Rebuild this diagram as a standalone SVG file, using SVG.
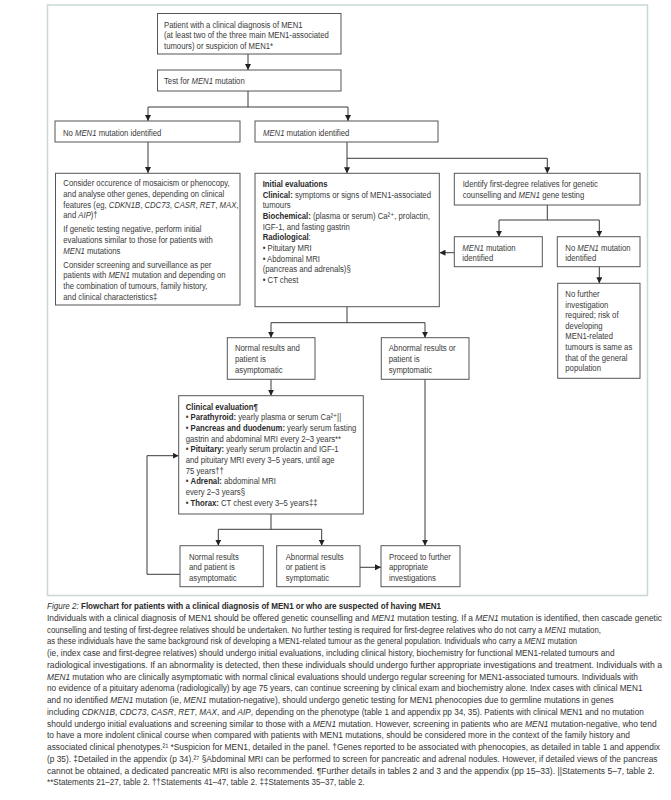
<svg xmlns="http://www.w3.org/2000/svg" width="671" height="800" viewBox="0 0 671 800">
<defs>
<style>
.box{fill:#fff;stroke:#555;stroke-width:1}
.t{font-family:"Liberation Sans",Arial,"DejaVu Sans",sans-serif;font-size:9px;fill:#3a3a3a}
.b{font-weight:bold;fill:#2a2a2a}
.i{font-style:italic}
.conn{fill:none;stroke:#3a3a3a;stroke-width:1}
.cap{font-family:"Liberation Sans",Arial,"DejaVu Sans",sans-serif;font-size:9px;fill:#333}
</style>
<marker id="ah" markerUnits="userSpaceOnUse" markerWidth="6" markerHeight="6" refX="6" refY="3" orient="auto">
<path d="M0,0 L6,3 L0,6 z" fill="#222"/>
</marker>
</defs>
<rect width="671" height="800" fill="#fff"/>
<rect x="47.5" y="5" width="600" height="590.5" fill="none" stroke="#c9d7d7" stroke-width="1.5"/>

<g id="connectors">
<path class="conn" d="M248,54 V70" marker-end="url(#ah)"/>
<path class="conn" d="M248,91 V107 M148,107 H348"/>
<path class="conn" d="M148,107 V121" marker-end="url(#ah)"/>
<path class="conn" d="M348,107 V121" marker-end="url(#ah)"/>
<path class="conn" d="M148,142 V173" marker-end="url(#ah)"/>
<path class="conn" d="M347,142 V173.3" marker-end="url(#ah)"/>
<path class="conn" d="M347,158.3 H547.3 V173.3" marker-end="url(#ah)"/>
<path class="conn" d="M547.3,205 V220 M499,220 H599.3"/>
<path class="conn" d="M499,220 V236.7" marker-end="url(#ah)"/>
<path class="conn" d="M599.3,220 V236.7" marker-end="url(#ah)"/>
<path class="conn" d="M454.3,252.7 H439.5" marker-end="url(#ah)"/>
<path class="conn" d="M599.3,266.7 V283.3" marker-end="url(#ah)"/>
<path class="conn" d="M347,306.7 V322.7 M271,322.7 H425"/>
<path class="conn" d="M271,322.7 V337.7" marker-end="url(#ah)"/>
<path class="conn" d="M425,322.7 V337.7" marker-end="url(#ah)"/>
<path class="conn" d="M271,379.3 V395.7" marker-end="url(#ah)"/>
<path class="conn" d="M425,379.3 V545.7" marker-end="url(#ah)"/>
<path class="conn" d="M271,514 V529.3 M218.3,529.3 H321.7"/>
<path class="conn" d="M218.3,529.3 V545.7" marker-end="url(#ah)"/>
<path class="conn" d="M321.7,529.3 V545.7" marker-end="url(#ah)"/>
<path class="conn" d="M180,574.3 H147 V455.7 H178.7" marker-end="url(#ah)"/>
<path class="conn" d="M360,567.3 H381" marker-end="url(#ah)"/>
</g>

<g id="patient">
<rect class="box" x="157.5" y="13.5" width="183.5" height="40.5"/>
<text class="t" transform="matrix(0.86 0 0 1 164 28)"><tspan x="0" y="0">Patient with a clinical diagnosis of MEN1</tspan><tspan x="0" y="10.5">(at least two of the three main MEN1-associated</tspan><tspan x="0" y="21">tumours) or suspicion of MEN1*</tspan></text>
</g>

<g id="test">
<rect class="box" x="157.5" y="70" width="183.5" height="21"/>
<text class="t" transform="matrix(0.86 0 0 1 164 84)">Test for <tspan class="i">MEN1</tspan> mutation</text>
</g>

<g id="no-mutation">
<rect class="box" x="55" y="121" width="185" height="21"/>
<text class="t" transform="matrix(0.86 0 0 1 63 135.5)">No <tspan class="i">MEN1</tspan> mutation identified</text>
</g>

<g id="mutation">
<rect class="box" x="255" y="121" width="183" height="21"/>
<text class="t" transform="matrix(0.86 0 0 1 263 135.5)"><tspan class="i">MEN1</tspan> mutation identified</text>
</g>

<g id="consider">
<rect class="box" x="55.5" y="173.3" width="184.5" height="131.7"/>
<text class="t" transform="matrix(0.86 0 0 1 63.3 186.3)"><tspan x="0" y="0">Consider occurence of mosaicism or phenocopy,</tspan><tspan x="0" y="10.7">and analyse other genes, depending on clinical</tspan><tspan x="0" y="21.4">features (eg, <tspan class="i">CDKN1B</tspan>, <tspan class="i">CDC73</tspan>, <tspan class="i">CASR</tspan>, <tspan class="i">RET</tspan>, <tspan class="i">MAX</tspan>,</tspan><tspan x="0" y="32">and <tspan class="i">AIP</tspan>)†</tspan><tspan x="0" y="46">If genetic testing negative, perform initial</tspan><tspan x="0" y="56.7">evaluations similar to those for patients with</tspan><tspan x="0" y="67.4"><tspan class="i">MEN1</tspan> mutations</tspan><tspan x="0" y="81.4">Consider screening and surveillance as per</tspan><tspan x="0" y="92">patients with <tspan class="i">MEN1</tspan> mutation and depending on</tspan><tspan x="0" y="102.7">the combination of tumours, family history,</tspan><tspan x="0" y="113.4">and clinical characteristics‡</tspan></text>
</g>

<g id="initial">
<rect class="box" x="255" y="173.3" width="184.3" height="133.4"/>
<text class="t" transform="matrix(0.86 0 0 1 262.7 187)"><tspan x="0" y="0" class="b">Initial evaluations</tspan><tspan x="0" y="10.67"><tspan class="b">Clinical:</tspan> symptoms or signs of  MEN1-associated</tspan><tspan x="0" y="21.33">tumours</tspan><tspan x="0" y="32"><tspan class="b">Biochemical:</tspan> (plasma or serum) Ca²⁺, prolactin,</tspan><tspan x="0" y="42.67">IGF-1, and fasting gastrin</tspan><tspan x="0" y="53.33"><tspan class="b">Radiological</tspan>:</tspan><tspan x="0" y="64">• Pituitary MRI</tspan><tspan x="0" y="74.67">• Abdominal MRI</tspan><tspan x="0" y="85.33">(pancreas and adrenals)§</tspan><tspan x="0" y="96">• CT chest</tspan></text>
</g>

<g id="identify">
<rect class="box" x="454.3" y="173.3" width="185.7" height="31.7"/>
<text class="t" transform="matrix(0.86 0 0 1 462.7 187)"><tspan x="0" y="0">Identify first-degree relatives for genetic</tspan><tspan x="0" y="10.67">counselling and <tspan class="i">MEN1</tspan> gene testing</tspan></text>
</g>

<g id="rel-mutation">
<rect class="box" x="454.3" y="236.7" width="88" height="30"/>
<text class="t" transform="matrix(0.86 0 0 1 462.3 250.5)"><tspan x="0" y="0"><tspan class="i">MEN1</tspan> mutation</tspan><tspan x="0" y="10.3">identified</tspan></text>
</g>

<g id="rel-no-mutation">
<rect class="box" x="557.3" y="236.7" width="82.7" height="30"/>
<text class="t" transform="matrix(0.86 0 0 1 565.3 250.5)"><tspan x="0" y="0">No <tspan class="i">MEN1</tspan> mutation</tspan><tspan x="0" y="10.3">identified</tspan></text>
</g>

<g id="no-further">
<rect class="box" x="557.7" y="283.3" width="82.3" height="95"/>
<text class="t" transform="matrix(0.86 0 0 1 565.3 297)"><tspan x="0" y="0">No further</tspan><tspan x="0" y="10.6">investigation</tspan><tspan x="0" y="21.2">required; risk of</tspan><tspan x="0" y="31.8">developing</tspan><tspan x="0" y="42.4">MEN1-related</tspan><tspan x="0" y="53">tumours is same as</tspan><tspan x="0" y="63.6">that of the general</tspan><tspan x="0" y="74.2">population</tspan></text>
</g>

<g id="normal1">
<rect class="box" x="227.3" y="337.7" width="87.7" height="41.6"/>
<text class="t" transform="matrix(0.86 0 0 1 235 351.3)"><tspan x="0" y="0">Normal results and</tspan><tspan x="0" y="10.8">patient is</tspan><tspan x="0" y="21.6">asymptomatic</tspan></text>
</g>

<g id="abnormal1">
<rect class="box" x="381.3" y="337.7" width="87.7" height="41.6"/>
<text class="t" transform="matrix(0.86 0 0 1 388.7 351.3)"><tspan x="0" y="0">Abnormal results or</tspan><tspan x="0" y="10.8">patient is</tspan><tspan x="0" y="21.6">symptomatic</tspan></text>
</g>

<g id="clinical-evaluation">
<rect class="box" x="178.7" y="395.7" width="184.6" height="118.3"/>
<text class="t" transform="matrix(0.86 0 0 1 185.7 409.7)"><tspan x="0" y="0" class="b">Clinical evaluation¶</tspan><tspan x="0" y="10.67">• <tspan class="b">Parathyroid:</tspan> yearly plasma or serum Ca²⁺||</tspan><tspan x="0" y="21.33">• <tspan class="b">Pancreas and duodenum:</tspan> yearly serum fasting</tspan><tspan x="0" y="32">gastrin and abdominal MRI every 2–3 years**</tspan><tspan x="0" y="42.67">• <tspan class="b">Pituitary:</tspan> yearly serum prolactin and IGF-1</tspan><tspan x="0" y="53.33">and pituitary MRI every 3–5 years, until age</tspan><tspan x="0" y="64">75 years††</tspan><tspan x="0" y="74.67">• <tspan class="b">Adrenal:</tspan> abdominal MRI</tspan><tspan x="0" y="85.33">every 2–3 years§</tspan><tspan x="0" y="96">• <tspan class="b">Thorax:</tspan> CT chest every 3–5 years‡‡</tspan></text>
</g>

<g id="normal2">
<rect class="box" x="180" y="545.7" width="83.3" height="41"/>
<text class="t" transform="matrix(0.86 0 0 1 189 559.5)"><tspan x="0" y="0">Normal results</tspan><tspan x="0" y="11">and patient is</tspan><tspan x="0" y="22">asymptomatic</tspan></text>
</g>

<g id="abnormal2">
<rect class="box" x="276.7" y="545.7" width="83.3" height="41"/>
<text class="t" transform="matrix(0.86 0 0 1 285.7 559.5)"><tspan x="0" y="0">Abnormal results</tspan><tspan x="0" y="11">or patient is</tspan><tspan x="0" y="22">symptomatic</tspan></text>
</g>

<g id="proceed">
<rect class="box" x="381" y="545.7" width="79" height="41"/>
<text class="t" transform="matrix(0.86 0 0 1 389 559.5)"><tspan x="0" y="0">Proceed to further</tspan><tspan x="0" y="11">appropriate</tspan><tspan x="0" y="22">investigations</tspan></text>
</g>

<g id="caption">
<text class="cap" transform="matrix(0.87 0 0 1 47 609)" textLength="452.9" lengthAdjust="spacingAndGlyphs"><tspan class="i">Figure 2:</tspan><tspan class="b"> Flowchart for patients with a clinical diagnosis of MEN1 or who are suspected of having MEN1</tspan></text>
<text class="cap" transform="matrix(0.87 0 0 1 47 620.75)" textLength="706.9" lengthAdjust="spacingAndGlyphs">Individuals with a clinical diagnosis of MEN1 should be offered genetic counselling and <tspan class="i">MEN1</tspan> mutation testing. If a <tspan class="i">MEN1</tspan> mutation is identified, then cascade genetic</text>
<text class="cap" transform="matrix(0.87 0 0 1 47 632.5)" textLength="636.8" lengthAdjust="spacingAndGlyphs">counselling and testing of first-degree relatives should be undertaken. No further testing is required for first-degree relatives who do not carry a <tspan class="i">MEN1</tspan> mutation,</text>
<text class="cap" transform="matrix(0.87 0 0 1 47 644.25)" textLength="609.2" lengthAdjust="spacingAndGlyphs">as these individuals have the same background risk of developing a MEN1-related tumour as the general population. Individuals who carry a <tspan class="i">MEN1</tspan> mutation</text>
<text class="cap" transform="matrix(0.87 0 0 1 47 656)" textLength="652.4" lengthAdjust="spacingAndGlyphs">(ie, index case and first-degree relatives) should undergo initial evaluations, including clinical history, biochemistry for functional MEN1-related tumours and</text>
<text class="cap" transform="matrix(0.87 0 0 1 47 667.75)" textLength="706.9" lengthAdjust="spacingAndGlyphs">radiological investigations. If an abnormality is detected, then these individuals should undergo further appropriate investigations and treatment. Individuals with a</text>
<text class="cap" transform="matrix(0.87 0 0 1 47 679.5)" textLength="679.3" lengthAdjust="spacingAndGlyphs"><tspan class="i">MEN1</tspan> mutation who are clinically asymptomatic with normal clinical evaluations should undergo regular screening for MEN1-associated tumours. Individuals with</text>
<text class="cap" transform="matrix(0.87 0 0 1 47 691.25)" textLength="684.5" lengthAdjust="spacingAndGlyphs">no evidence of a pituitary adenoma (radiologically) by age 75 years, can continue screening by clinical exam and biochemistry alone. Index cases with clinical MEN1</text>
<text class="cap" transform="matrix(0.87 0 0 1 47 703)" textLength="651.4" lengthAdjust="spacingAndGlyphs">and no identified <tspan class="i">MEN1</tspan> mutation (ie, <tspan class="i">MEN1</tspan> mutation-negative), should undergo genetic testing for MEN1 phenocopies due to germline mutations in genes</text>
<text class="cap" transform="matrix(0.87 0 0 1 47 714.75)" textLength="686" lengthAdjust="spacingAndGlyphs">including <tspan class="i">CDKN1B</tspan>, <tspan class="i">CDC73</tspan>, <tspan class="i">CASR</tspan>, <tspan class="i">RET</tspan>, <tspan class="i">MAX</tspan>, and <tspan class="i">AIP</tspan>, depending on the phenotype (table 1 and appendix pp 34, 35). Patients with clinical MEN1 and no mutation</text>
<text class="cap" transform="matrix(0.87 0 0 1 47 726.5)" textLength="700.8" lengthAdjust="spacingAndGlyphs">should undergo initial evaluations and screening similar to those with a <tspan class="i">MEN1</tspan> mutation. However, screening in patients who are <tspan class="i">MEN1</tspan> mutation-negative, who tend</text>
<text class="cap" transform="matrix(0.87 0 0 1 47 738.25)" textLength="670.1" lengthAdjust="spacingAndGlyphs">to have a more indolent clinical course when compared with patients with MEN1 mutations, should be considered more in the context of the family history and</text>
<text class="cap" transform="matrix(0.87 0 0 1 47 750)" textLength="704.6" lengthAdjust="spacingAndGlyphs">associated clinical phenotypes.²¹ *Suspicion for MEN1, detailed in the panel. †Genes reported to be associated with phenocopies, as detailed in table 1 and appendix</text>
<text class="cap" transform="matrix(0.87 0 0 1 47 761.75)" textLength="701.7" lengthAdjust="spacingAndGlyphs">(p 35). ‡Detailed in the appendix (p 34).²⁷ §Abdominal MRI can be performed to screen for pancreatic and adrenal nodules. However, if detailed views of the pancreas</text>
<text class="cap" transform="matrix(0.87 0 0 1 47 773.5)" textLength="698.3" lengthAdjust="spacingAndGlyphs">cannot be obtained, a dedicated pancreatic MRI is also recommended. ¶Further details in tables 2 and 3 and the appendix (pp 15–33). ||Statements 5–7, table 2.</text>
<text class="cap" transform="matrix(0.87 0 0 1 47 785.25)" textLength="365.3" lengthAdjust="spacingAndGlyphs">**Statements 21–27, table 2. ††Statements 41–47, table 2. ‡‡Statements 35–37, table 2.</text>
</g>
</svg>
